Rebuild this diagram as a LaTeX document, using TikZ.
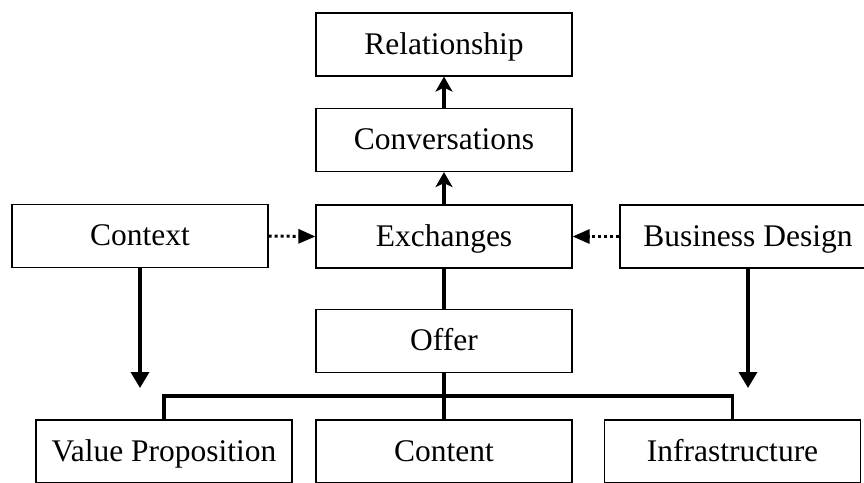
\documentclass[tikz,border=0pt]{standalone}
\usepackage{fontspec}
\setmainfont{Liberation Serif}
\usetikzlibrary{arrows.meta}

\tikzset{
  box/.style={draw, line width=1.2pt, rectangle, inner sep=0pt,
              minimum width=256pt, minimum height=63pt,
              text height=21pt, text depth=2pt,
              font=\fontsize{31.5}{36}\selectfont},
  link/.style={line width=3.5pt, line join=miter},
  uparrow/.style={link, -{Stealth[length=15pt,width=17pt,inset=4pt]}},
  downarrow/.style={link, -{Triangle[length=16pt,width=18pt]}},
  dotlink/.style={line width=3pt, dash pattern=on 3pt off 3pt,
                  -{Triangle[length=17pt,width=14pt,sep=0pt]}}
}

\begin{document}
\begin{tikzpicture}[x=1pt, y=-1pt]
  \useasboundingbox (0,0) rectangle (864,482);
  \clip (0,0) rectangle (864,482);

  % central column
  \node[box] (rel)  at (444,44.5)  {Relationship};
  \node[box] (conv) at (444,140)   {Conversations};
  \node[box] (exch) at (444,236.5) {Exchanges};
  \node[box] (offer) at (444,341)  {Offer};

  % side inputs
  \node[box] (ctx) at (140,236)   {Context};
  \node[box] (bd)  at (748,236.5) {Business Design};

  % components of the offer
  \node[box] (vp)    at (164,451.5)   {Value Proposition};
  \node[box] (cont)  at (444,451.5)   {Content};
  \node[box] (infra) at (732.5,451.5) {Infrastructure};

  % upward chain
  \draw[uparrow] (conv.north) -- (rel.south);
  \draw[uparrow] (exch.north) -- (conv.south);
  \draw[link] (exch.south) -- (offer.north);

  % dotted influences into the exchanges
  \draw[dotlink] (ctx.east) -- (exch.west);
  \draw[dotlink] (bd.west) -- (exch.west -| exch.east);

  % offer split into its three components
  \coordinate (bus) at (444,396);
  \draw[link] (offer.south) -- (cont.north);
  \draw[link] (vp.north) |- (bus) -| (infra.north);

  % downward influences
  \draw[downarrow] (ctx.south) -- (140,388);
  \draw[downarrow] (bd.south) -- (748,388);
\end{tikzpicture}
\end{document}
